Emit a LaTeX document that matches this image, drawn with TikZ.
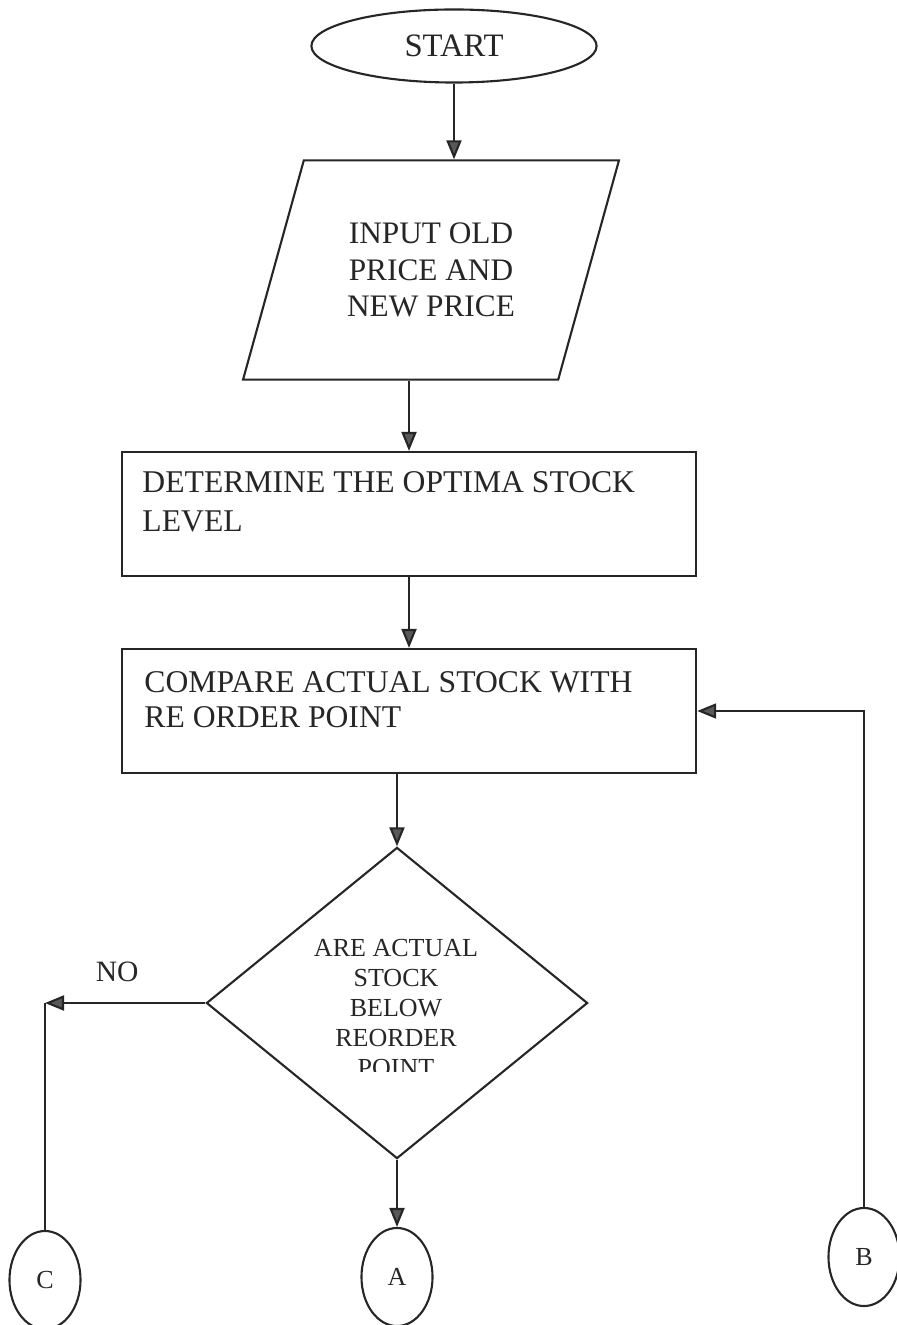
\documentclass[tikz,border=0pt]{standalone}
\usepackage{fontspec}
\setmainfont{Liberation Serif}
\usetikzlibrary{arrows.meta,positioning,shapes.geometric}

\begin{document}
\begin{tikzpicture}[
  x=0.01cm, y=-0.01cm, color=black!85,
  terminal/.style={draw, ellipse, minimum width=2.85cm, minimum height=0.73cm, inner sep=0pt, line width=0.6pt, font=\fontsize{9.3}{11}\selectfont},
  io/.style={draw, trapezium, trapezium left angle=67, trapezium right angle=113, trapezium stretches=true, minimum width=3.78cm, minimum height=2.19cm, inner sep=0pt, line width=0.6pt, align=center, font=\fontsize{8.9}{10.4}\selectfont},
  process/.style={draw, rectangle, minimum width=5.74cm, minimum height=1.24cm, inner sep=0pt, line width=0.6pt},
  boxtext/.style={anchor=north west, align=left, inner sep=0pt},
  decision/.style={draw, diamond, aspect=1.225, minimum width=3.81cm, minimum height=3.11cm, inner sep=0pt, line width=0.6pt},
  connector/.style={draw, ellipse, minimum width=0.71cm, minimum height=0.98cm, inner sep=0pt, line width=0.6pt, font=\fontsize{7.4}{9}\selectfont},
  arrow/.style={-{Triangle[length=1.9mm, width=1.5mm, fill=black!65]}, draw, line width=0.6pt},
  link/.style={draw, line width=0.6pt},
]
\useasboundingbox (0,0) rectangle (896,1325);

% Nodes
\node[terminal] (start) at (454,46) {START};
\node[io] (inp) at (431,270) {INPUT OLD\\PRICE AND\\NEW PRICE};
\node[process] (det) at (409,514) {};
\node[boxtext, font=\fontsize{9}{11.1}\selectfont, below right=0.2cm and 0.21cm of det.north west] (dettext) {DETERMINE THE OPTIMA STOCK\\LEVEL};
\node[process] (cmp) at (409,711) {};
\node[boxtext, font=\fontsize{9}{10.2}\selectfont, below right=0.225cm and 0.23cm of cmp.north west] (cmptext) {COMPARE ACTUAL STOCK WITH\\RE ORDER POINT};
\node[decision] (dec) at (397,1003) {};
\begin{scope}
  \clip (206,848) rectangle (587,1071);
  \node[align=center, inner sep=0pt, font=\fontsize{7.4}{8.5}\selectfont] (dectext) at (396,1008) {ARE ACTUAL\\STOCK\\BELOW\\REORDER\\POINT};
\end{scope}
\node[connector] (C) at (45,1280) {C};
\node[connector] (A) at (397,1277) {A};
\node[connector] (B) at (864,1257) {B};

% Arrows
\draw[arrow] (start) -- (start |- inp.north);
\draw[arrow] (inp.south -| det.north) -- (det.north);
\draw[arrow] (det) -- (cmp);
\draw[arrow] (cmp.south -| dec.north) -- (dec.north);
\draw[arrow] (dec) -- (A);
\draw[arrow] (dec.west) -- (dec.west -| C.north) node[pos=0.55, above=2.5pt, font=\fontsize{8.4}{10}\selectfont] (no) {NO};
\draw[link] (C.north) -- (dec.west -| C.north);
\draw[arrow] (B.north) |- (cmp.east);

\end{tikzpicture}
\end{document}
